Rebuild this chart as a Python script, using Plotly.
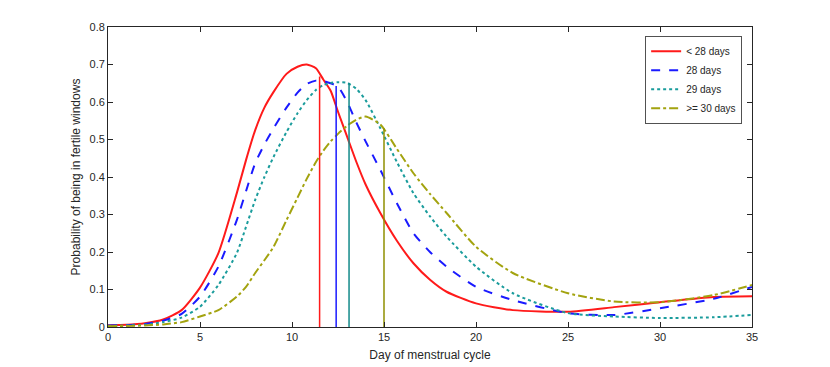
import plotly.graph_objects as go

# day of cycle sample points
days = [0, 1, 2, 3, 4, 5, 6, 7, 7.5, 8, 8.5, 9, 9.7, 10.3, 10.8, 11.3, 11.7, 12.1, 12.5, 13.0,
        13.5, 14.0, 14.8, 15.7, 16.6, 17.5, 18.4, 20, 22, 25, 27.5, 30, 32.9, 35]

p_lt28 = [0.005, 0.006, 0.010, 0.020, 0.045, 0.105, 0.197, 0.357, 0.445, 0.525, 0.585, 0.627,
          0.675, 0.694, 0.700, 0.690, 0.660, 0.630, 0.574, 0.507, 0.440, 0.380, 0.304, 0.230,
          0.170, 0.126, 0.094, 0.063, 0.045, 0.041, 0.053, 0.066, 0.080, 0.082]
p_28 = [0.004, 0.005, 0.008, 0.017, 0.035, 0.081, 0.161, 0.285, 0.362, 0.437, 0.487, 0.530,
        0.585, 0.625, 0.648, 0.657, 0.656, 0.650, 0.641, 0.600, 0.545, 0.495, 0.419, 0.330,
        0.250, 0.200, 0.161, 0.107, 0.072, 0.037, 0.032, 0.050, 0.075, 0.107]
p_29 = [0.003, 0.004, 0.006, 0.013, 0.025, 0.054, 0.112, 0.197, 0.267, 0.339, 0.400, 0.454,
        0.520, 0.570, 0.605, 0.632, 0.645, 0.651, 0.653, 0.651, 0.635, 0.605, 0.530, 0.440,
        0.357, 0.295, 0.241, 0.161, 0.090, 0.037, 0.028, 0.024, 0.026, 0.032]
p_ge30 = [0.002, 0.003, 0.004, 0.007, 0.013, 0.028, 0.045, 0.081, 0.107, 0.144, 0.178, 0.214,
          0.285, 0.345, 0.395, 0.440, 0.470, 0.495, 0.515, 0.537, 0.553, 0.561, 0.540, 0.475,
          0.410, 0.355, 0.304, 0.214, 0.144, 0.090, 0.068, 0.066, 0.085, 0.112]

labels = ["< 28 days", "28 days", "29 days", ">= 30 days"]
series = [p_lt28, p_28, p_29, p_ge30]
colors = ["#ff1a1a", "#1a1aff", "#1a9c9c", "#a3a30f"]
dashes = ["solid", "dash", "dot", "dashdot"]

# vertical markers (day, height)
vline_x = [11.5, 12.4, 13.1, 15.0]
vline_top = [0.668, 0.643, 0.651, 0.530]
vline_colors = ["#ff1a1a", "#1a1aff", "#138a8a", "#8f8f00"]

fig = go.Figure()
for name, ys, c, d in zip(labels, series, colors, dashes):
    fig.add_trace(go.Scatter(x=days, y=ys, name=name, mode="lines",
                             line=dict(color=c, width=2, dash=d, shape="spline", smoothing=0.6)))
for vx, vt, c in zip(vline_x, vline_top, vline_colors):
    fig.add_trace(go.Scatter(x=[vx, vx], y=[0, vt], mode="lines", showlegend=False,
                             line=dict(color=c, width=1.5), hoverinfo="skip"))

axis_common = dict(showgrid=False, zeroline=False, showline=True, mirror="allticks",
                   linecolor="#262626", linewidth=0.8, ticks="inside", ticklen=5,
                   tickcolor="#262626", tickfont=dict(size=11, color="#262626"),
                   title_font=dict(size=12, color="#262626"))

fig.update_layout(
    width=830, height=367,
    margin=dict(l=100, r=86, t=19, b=48),
    plot_bgcolor="white", paper_bgcolor="white",
    font=dict(family="Liberation Sans, Arial, sans-serif"),
    xaxis=dict(range=[0, 35], tickvals=[0, 5, 10, 15, 20, 25, 30, 35],
               title=dict(text="Day of menstrual cycle", standoff=8), **axis_common),
    yaxis=dict(range=[0, 0.8], tickvals=[0, 0.1, 0.2, 0.3, 0.4, 0.5, 0.6, 0.7, 0.8],
               ticktext=["0", "0.1", "0.2", "0.3", "0.4", "0.5", "0.6", "0.7", "0.8"],
               title=dict(text="Probability of being in fertile windows", standoff=6), **axis_common),
    legend=dict(x=0.985, y=0.97, xanchor="right", yanchor="top", bgcolor="white",
                bordercolor="#262626", borderwidth=0.8, font=dict(size=10, color="#262626"),
                tracegroupgap=0, itemwidth=30),
)

fig.write_html("out.html")
